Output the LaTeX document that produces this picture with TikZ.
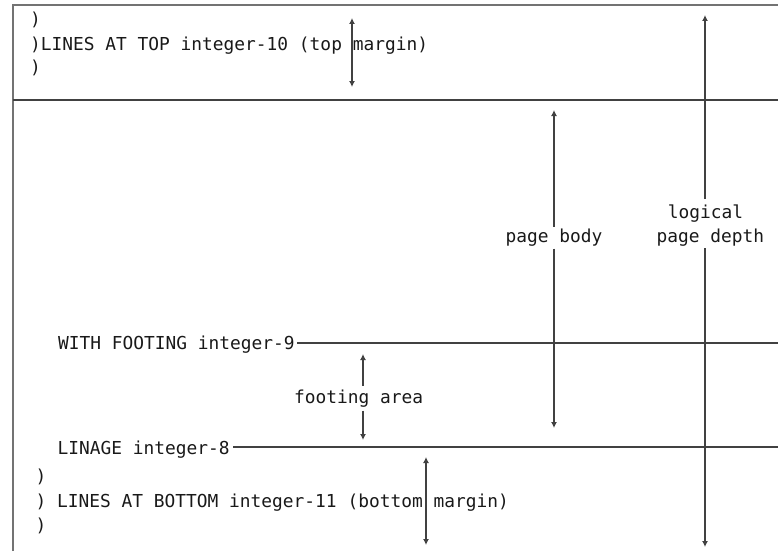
\documentclass[tikz,border=0pt]{standalone}
\usepackage{fontspec}
\setmonofont{DejaVu Sans Mono}
\usetikzlibrary{arrows.meta,calc}
\definecolor{frm}{RGB}{115,115,115}
\definecolor{ln}{RGB}{65,65,65}
\definecolor{tx}{RGB}{25,25,25}
\begin{document}
\begin{tikzpicture}[x=1pt,y=-1pt,
  lbl/.style={font=\fontsize{17.86}{20}\selectfont\ttfamily, text=tx, inner sep=0pt},
  frame/.style={draw=frm, line width=1.5pt},
  rule/.style={draw=ln, line width=1.5pt},
  dim/.style={draw=ln, line width=1.5pt},
  tip/.style={-{Latex[length=6pt,width=6pt]}},
  both/.style={{Latex[length=6pt,width=6pt]}-{Latex[length=6pt,width=6pt]}}
]
\useasboundingbox (0,0) rectangle (778,551);

% frame
\coordinate (fTL) at (13,5);
\coordinate (fTR) at (778,5);
\coordinate (fBL) at (13,551);
\draw[frame] (fBL) -- (fTL) -- (fTR);

% top margin separator
\coordinate (mL) at (13,100);
\coordinate (mR) at (778,100);
\draw[rule] (mL) -- (mR);

% top text
\node[lbl, anchor=base west] (t1) at (30,26) {)};
\node[lbl, anchor=base west] (t2) at (30,50) {)LINES AT TOP integer-10 (top margin)};
\node[lbl, anchor=base west] (t3) at (30,73) {)};

% top margin arrow
\coordinate (tmT) at (352,18);
\coordinate (tmB) at (352,87);
\draw[dim, both] (tmT) -- (tmB);

% logical page depth
\coordinate (ldT) at (705,15);
\coordinate (ldB) at (705,547);
\node[lbl, anchor=base, inner ysep=5pt] (lg) at (705.5,218) {logical};
\node[lbl, anchor=base west, inner ysep=1.5pt] (pd) at (656.5,242.5) {page depth};
\draw[dim, tip] (lg.north -| ldT) -- (ldT);
\draw[dim, tip] (pd.south -| ldT) -- (ldB);

% page body
\coordinate (pbT) at (554,110);
\coordinate (pbB) at (554,428);
\node[lbl, anchor=base, inner ysep=2pt] (pb) at (554,242.5) {page body};
\draw[dim, tip] (pb.north) -- (pbT);
\draw[dim, tip] (pb.south) -- (pbB);

% with footing
\node[lbl, anchor=base west] (wf) at (58,349.5) {WITH FOOTING integer-9};
\coordinate (wfR) at (778,343);
\draw[rule] ($(wf.east |- wfR)+(2.5,0)$) -- (wfR);

% footing area
\coordinate (faT) at (363,354);
\coordinate (faB) at (363,440);
\node[lbl, anchor=base west, inner ysep=3.5pt] (fa) at (294,403) {footing area};
\draw[dim, tip] (fa.north -| faT) -- (faT);
\draw[dim, tip] (fa.south -| faT) -- (faB);

% linage
\node[lbl, anchor=base west] (li) at (57.5,454.5) {LINAGE integer-8};
\coordinate (liR) at (778,447);
\draw[rule] ($(li.east |- liR)+(3.5,0)$) -- (liR);

% bottom text
\node[lbl, anchor=base west] (b1) at (35.5,482) {)};
\node[lbl, anchor=base west] (b2) at (35.5,507) {) LINES AT BOTTOM integer-11 (bottom margin)};
\node[lbl, anchor=base west] (b3) at (35.5,531) {)};

% bottom margin arrow
\coordinate (bmT) at (426,457);
\coordinate (bmB) at (426,545);
\draw[dim, both] (bmT) -- (bmB);
\end{tikzpicture}
\end{document}
